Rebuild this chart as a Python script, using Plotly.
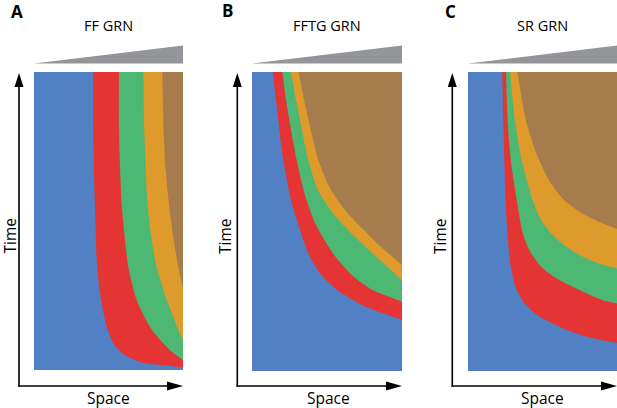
import plotly.graph_objects as go

# -----------------------------
# Data: boundary curves between neighbouring states
# (space 0..1 left->right, time 0..1 bottom->top)
# -----------------------------
panel_letters = ["A", "B", "C"]
panel_titles = ["FF GRN", "FFTG GRN", "SR GRN"]
state_colors = ["#5280C4", "#E43434", "#4CB874", "#DE9A2A", "#A67C4D"]

# A: FF GRN
ff_b1_space = [0.396, 0.398, 0.409, 0.421, 0.443, 0.488, 0.532, 0.589, 0.711, 0.846, 1.0]
ff_b1_time = [1.0, 0.805, 0.554, 0.369, 0.258, 0.144, 0.091, 0.057, 0.027, 0.017, 0.010]
ff_b2_space = [0.570, 0.570, 0.589, 0.606, 0.633, 0.689, 0.779, 0.846, 0.935, 1.0]
ff_b2_time = [1.0, 0.805, 0.554, 0.460, 0.346, 0.235, 0.144, 0.101, 0.057, 0.034]
ff_b3_space = [0.734, 0.740, 0.760, 0.783, 0.823, 0.891, 0.935, 0.977, 1.0]
ff_b3_time = [1.0, 0.805, 0.570, 0.460, 0.346, 0.235, 0.178, 0.124, 0.102]
ff_b4_space = [0.861, 0.870, 0.881, 0.903, 0.931, 0.968, 1.0]
ff_b4_time = [1.0, 0.805, 0.688, 0.570, 0.460, 0.346, 0.275]

# B: FFTG GRN
fftg_b1_space = [0.138, 0.160, 0.175, 0.209, 0.260, 0.320, 0.380, 0.467, 0.587, 0.733, 0.867, 1.0]
fftg_b1_time = [1.0, 0.906, 0.839, 0.706, 0.572, 0.472, 0.388, 0.318, 0.264, 0.221, 0.194, 0.171]
fftg_b2_space = [0.202, 0.227, 0.249, 0.298, 0.353, 0.427, 0.547, 0.680, 0.813, 1.0]
fftg_b2_time = [1.0, 0.906, 0.839, 0.706, 0.589, 0.488, 0.388, 0.314, 0.268, 0.232]
fftg_b3_space = [0.260, 0.293, 0.320, 0.375, 0.440, 0.533, 0.653, 0.787, 1.0]
fftg_b3_time = [1.0, 0.906, 0.839, 0.706, 0.605, 0.532, 0.465, 0.401, 0.304]
fftg_b4_space = [0.311, 0.347, 0.380, 0.442, 0.520, 0.620, 0.733, 0.853, 1.0]
fftg_b4_time = [1.0, 0.906, 0.833, 0.706, 0.612, 0.538, 0.478, 0.418, 0.355]

# C: SR GRN
sr_b1_space = [0.230, 0.237, 0.244, 0.252, 0.268, 0.285, 0.322, 0.379, 0.480, 0.631, 0.805, 1.0]
sr_b1_time = [1.0, 0.839, 0.706, 0.572, 0.438, 0.355, 0.278, 0.227, 0.182, 0.144, 0.114, 0.094]
sr_b2_space = [0.255, 0.266, 0.287, 0.327, 0.367, 0.411, 0.490, 0.613, 0.747, 0.904, 1.0]
sr_b2_time = [1.0, 0.839, 0.706, 0.572, 0.462, 0.405, 0.349, 0.304, 0.271, 0.237, 0.226]
sr_b3_space = [0.282, 0.315, 0.360, 0.434, 0.490, 0.557, 0.658, 0.770, 0.904, 1.0]
sr_b3_time = [1.0, 0.839, 0.706, 0.572, 0.505, 0.461, 0.416, 0.382, 0.355, 0.343]
sr_b4_space = [0.331, 0.389, 0.463, 0.550, 0.644, 0.752, 0.866, 1.0]
sr_b4_time = [1.0, 0.839, 0.722, 0.632, 0.572, 0.532, 0.502, 0.475]

boundaries = [
    [(ff_b1_space, ff_b1_time), (ff_b2_space, ff_b2_time),
     (ff_b3_space, ff_b3_time), (ff_b4_space, ff_b4_time)],
    [(fftg_b1_space, fftg_b1_time), (fftg_b2_space, fftg_b2_time),
     (fftg_b3_space, fftg_b3_time), (fftg_b4_space, fftg_b4_time)],
    [(sr_b1_space, sr_b1_time), (sr_b2_space, sr_b2_time),
     (sr_b3_space, sr_b3_time), (sr_b4_space, sr_b4_time)],
]

# -----------------------------
# Layout geometry (pixels)
# -----------------------------
W, H = 617, 408
rects = [(34, 183, 72, 370), (252, 402, 72, 371), (468, 617, 72, 371)]  # left, right, top, bottom
axis_x = [19, 237.3, 452.3]
axis_y = 386
letter_pos = [(17, 11), (227, 10), (451, 11)]
title_x = [108, 327, 542]
time_x = [9.5, 225, 440]
space_x = [108, 328, 542]


def px(x):
    return x / W


def py(y):
    return 1 - y / H


fig = go.Figure()
layout = {}
shapes = []
annotations = []

for i in range(3):
    xa = "x" if i == 0 else f"x{i + 1}"
    ya = "y" if i == 0 else f"y{i + 1}"
    left, right, top, bottom = rects[i]

    # whole field first (state 1), then each later state layered over it
    fig.add_trace(go.Scatter(x=[0, 1, 1, 0], y=[0, 0, 1, 1], fill="toself", mode="none",
                             fillcolor=state_colors[0], xaxis=xa, yaxis=ya,
                             showlegend=False, hoverinfo="skip"))
    for k, (bs, bt) in enumerate(boundaries[i]):
        # extend each end of the curve past the frame so the spline keeps its direction,
        # then close the region round the top-right corner outside the visible range
        pre = (2 * bs[0] - bs[1], 2 * bt[0] - bt[1])
        post = (2 * bs[-1] - bs[-2], 2 * bt[-1] - bt[-2])
        xs = [pre[0]] + list(bs) + [post[0], 1.5]
        ys = [pre[1]] + list(bt) + [post[1], 1.5]
        fig.add_trace(go.Scatter(x=xs, y=ys, fill="toself", mode="none",
                                 line=dict(shape="spline", smoothing=0.7),
                                 fillcolor=state_colors[k + 1], xaxis=xa, yaxis=ya,
                                 showlegend=False, hoverinfo="skip"))

    key = "" if i == 0 else str(i + 1)
    layout["xaxis" + key] = dict(domain=[px(left), px(right)], range=[0, 1], visible=False,
                                 fixedrange=True, anchor=ya)
    layout["yaxis" + key] = dict(domain=[py(bottom), py(top)], range=[0, 1], visible=False,
                                 fixedrange=True, anchor=xa)

    # gradient wedge above the panel
    shapes.append(dict(type="path", xref="paper", yref="paper",
                       path=f"M {px(left)},{py(63.5)} L {px(right)},{py(63.5)} L {px(right)},{py(45.5)} Z",
                       fillcolor="#939598", line=dict(width=0)))

    # axis arrows
    vx = axis_x[i]
    shapes.append(dict(type="line", xref="paper", yref="paper",
                       x0=px(vx), y0=py(axis_y + 0.8), x1=px(vx), y1=py(84),
                       line=dict(color="black", width=1.6)))
    shapes.append(dict(type="path", xref="paper", yref="paper",
                       path=f"M {px(vx)},{py(73)} L {px(vx - 4.5)},{py(87)} L {px(vx + 4.5)},{py(87)} Z",
                       fillcolor="black", line=dict(width=0)))
    shapes.append(dict(type="line", xref="paper", yref="paper",
                       x0=px(vx - 0.8), y0=py(axis_y), x1=px(right - 12), y1=py(axis_y),
                       line=dict(color="black", width=1.6)))
    shapes.append(dict(type="path", xref="paper", yref="paper",
                       path=f"M {px(right)},{py(axis_y)} L {px(right - 16)},{py(axis_y - 4.5)} L {px(right - 16)},{py(axis_y + 4.5)} Z",
                       fillcolor="black", line=dict(width=0)))

    # texts
    lx, ly = letter_pos[i]
    annotations.append(dict(text=f"<b>{panel_letters[i]}</b>", x=px(lx), y=py(ly), xref="paper", yref="paper",
                            showarrow=False, xanchor="center", yanchor="middle",
                            font=dict(family="Open Sans", size=17, color="black")))
    annotations.append(dict(text=panel_titles[i], x=px(title_x[i]), y=py(25), xref="paper", yref="paper",
                            showarrow=False, xanchor="center", yanchor="middle",
                            font=dict(family="Open Sans", size=14.5, color="black")))
    annotations.append(dict(text="Time", x=px(time_x[i]), y=py(236), xref="paper", yref="paper",
                            showarrow=False, xanchor="center", yanchor="middle", textangle=-90,
                            font=dict(family="Open Sans", size=15.5, color="black")))
    annotations.append(dict(text="Space", x=px(space_x[i]), y=py(398), xref="paper", yref="paper",
                            showarrow=False, xanchor="center", yanchor="middle",
                            font=dict(family="Open Sans", size=15.5, color="black")))

fig.update_layout(width=W, height=H, margin=dict(l=0, r=0, t=0, b=0),
                  paper_bgcolor="white", plot_bgcolor="white",
                  shapes=shapes, annotations=annotations, **layout)

# the page's default body margin would shift the fixed-size figure
fig.write_html("out.html", config={"displayModeBar": False},
               post_script="document.body.style.margin='0px';")
